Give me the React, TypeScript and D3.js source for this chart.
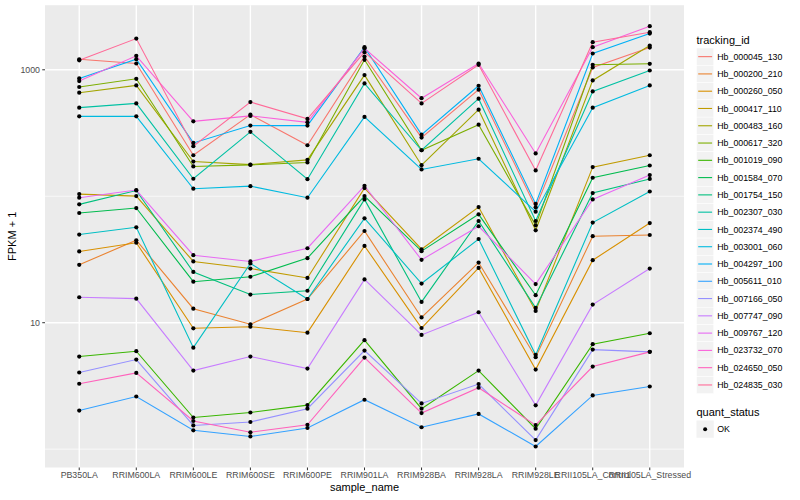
import React, { useRef, useEffect } from "react";
import * as d3 from "d3";

const samples = [
  "PB350LA",
  "RRIM600LA",
  "RRIM600LE",
  "RRIM600SE",
  "RRIM600PE",
  "RRIM901LA",
  "RRIM928BA",
  "RRIM928LA",
  "RRIM928LE",
  "RRII105LA_Control",
  "RRII105LA_Stressed",
];

const trackingIds = [
  "Hb_000045_130",
  "Hb_000200_210",
  "Hb_000260_050",
  "Hb_000417_110",
  "Hb_000483_160",
  "Hb_000617_320",
  "Hb_001019_090",
  "Hb_001584_070",
  "Hb_001754_150",
  "Hb_002307_030",
  "Hb_002374_490",
  "Hb_003001_060",
  "Hb_004297_100",
  "Hb_005611_010",
  "Hb_007166_050",
  "Hb_007747_090",
  "Hb_009767_120",
  "Hb_023732_070",
  "Hb_024650_050",
  "Hb_024835_030",
];

// FPKM + 1, one value per sample (same order as samples)
const hb000045_130 = [1210, 1121, 211, 442, 253, 1273, 291, 696, 81.7, 1043, 1499];
const hb000200_210 = [28.7, 44.9, 12.9, 9.72, 15.4, 53.1, 11.0, 29.9, 5.34, 48.3, 49.4];
const hb000260_050 = [36.6, 42.9, 9.03, 9.3, 8.34, 40.5, 9.08, 27.1, 4.26, 31.2, 61.4];
const hb000417_110 = [104, 100.3, 30.5, 26.8, 22.6, 116, 38.1, 82.1, 12.4, 170, 211];
const hb000483_160 = [659, 752, 188, 178, 194, 908, 176, 484, 53.8, 824, 1555];
const hb000617_320 = [731, 849, 172, 177, 185, 1199, 231, 368, 58.9, 1095, 1115];
const hb001019_090 = [5.4, 5.95, 1.78, 1.95, 2.23, 7.27, 2.09, 4.18, 1.45, 6.76, 8.25];
const hb001584_070 = [73.7, 80.7, 21.1, 23.1, 32.4, 100.3, 36.8, 71.9, 16.5, 140, 175];
const hb001754_150 = [86.3, 111, 25.2, 16.7, 17.9, 94.4, 14.6, 63.7, 13.1, 106, 137];
const hb002307_030 = [502, 542, 137.5, 323, 136.5, 780, 231, 591, 63.7, 674, 987];
const hb002374_490 = [49.8, 56.8, 6.35, 29.4, 15.4, 66.9, 20.4, 45.9, 5.57, 61.9, 109];
const hb003001_060 = [428.5, 428.5, 114.7, 120.2, 97.4, 424, 163, 198, 75.5, 502, 752];
const hb004297_100 = [854, 1214, 264, 362, 362, 1510, 307, 748, 87, 1345, 1933];
const hb005611_010 = [2.02, 2.61, 1.41, 1.26, 1.47, 2.46, 1.49, 1.9, 1.05, 2.66, 3.13];
const hb007166_050 = [4.04, 5.11, 1.54, 1.64, 2.09, 6.02, 2.3, 3.27, 1.18, 6.13, 5.88];
const hb007747_090 = [15.9, 15.5, 4.18, 5.4, 4.34, 22.0, 8.0, 12.1, 2.22, 13.9, 26.8];
const hb009767_120 = [97.4, 112, 34.2, 30.5, 38.8, 121, 31.4, 57.9, 20.2, 94.4, 147];
const hb023732_070 = [814, 1290, 391, 432, 384, 1477, 596, 1121, 218, 1510, 2211];
const hb024650_050 = [3.29, 4.01, 1.67, 1.36, 1.56, 5.3, 1.93, 3.06, 1.55, 4.5, 5.88];
const hb024835_030 = [1188, 1765, 249, 556, 409, 1379, 542, 1095, 160, 1654, 1983];

const seriesValues = [
  hb000045_130, hb000200_210, hb000260_050, hb000417_110, hb000483_160,
  hb000617_320, hb001019_090, hb001584_070, hb001754_150, hb002307_030,
  hb002374_490, hb003001_060, hb004297_100, hb005611_010, hb007166_050,
  hb007747_090, hb009767_120, hb023732_070, hb024650_050, hb024835_030,
];

const yMajor = [10, 1000];
const yMinor = [1, 100, 10000];
const quantStatus = ["OK"];

// R's hcl() (polar Luv) -> hex, same as ggplot's hue palette
function hclR(h: number, c: number, l: number): string {
  const hr = (h * Math.PI) / 180;
  const U = c * Math.cos(hr);
  const V = c * Math.sin(hr);
  const Xn = 95.047, Yn = 100, Zn = 108.883;
  const den = Xn + 15 * Yn + 3 * Zn;
  const un = (4 * Xn) / den;
  const vn = (9 * Yn) / den;
  const Y = Yn * (l > 8 ? Math.pow((l + 16) / 116, 3) : l / 903.3);
  const u = U / (13 * l) + un;
  const v = V / (13 * l) + vn;
  const X = (9 * Y * u) / (4 * v);
  const Z = (Y * (12 - 3 * u - 20 * v)) / (4 * v);
  const x = X / 100, y = Y / 100, z = Z / 100;
  const lin = [
    3.240479 * x - 1.53715 * y - 0.498535 * z,
    -0.969256 * x + 1.875992 * y + 0.041556 * z,
    0.055648 * x - 0.204043 * y + 1.057311 * z,
  ];
  const g = lin.map((t) => {
    const s = t <= 0.0031308 ? 12.92 * t : 1.055 * Math.pow(t, 1 / 2.4) - 0.055;
    return Math.round(Math.max(0, Math.min(1, s)) * 255);
  });
  return d3.rgb(g[0], g[1], g[2]).formatHex();
}

const App: React.FC = () => {
  const chartRef = useRef<SVGSVGElement>(null);

  useEffect(() => {
    if (!chartRef.current) return;
    const svg = d3.select(chartRef.current);
    svg.selectAll("*").remove();

    const font = "'Liberation Sans', Arial, Helvetica, sans-serif";
    const panel = { left: 45, right: 684, top: 5.2, bottom: 467.5 };

    const n = trackingIds.length;
    const colors = trackingIds.map((_, i) => hclR(15 + (360 / n) * i, 100, 65));

    // scales
    const x = d3
      .scalePoint<string>()
      .domain(samples)
      .range([panel.left, panel.right])
      .padding(0.6);

    const logs = seriesValues.flat().map((v) => Math.log10(v));
    const lo = d3.min(logs) || 0;
    const hi = d3.max(logs) || 1;
    const pad = (hi - lo) * 0.05;
    const y = d3
      .scaleLog()
      .domain([Math.pow(10, lo - pad), Math.pow(10, hi + pad)])
      .range([panel.bottom, panel.top]);
    const [dMin, dMax] = y.domain();

    svg.append("rect").attr("width", 800).attr("height", 500).attr("fill", "white");

    // panel background + grid
    svg
      .append("rect")
      .attr("x", panel.left)
      .attr("y", panel.top)
      .attr("width", panel.right - panel.left)
      .attr("height", panel.bottom - panel.top)
      .attr("fill", "#EBEBEB");

    const grid = svg.append("g");
    grid
      .selectAll(".minor")
      .data(yMinor.filter((v) => v >= dMin && v <= dMax))
      .enter()
      .append("line")
      .attr("x1", panel.left)
      .attr("x2", panel.right)
      .attr("y1", (d) => y(d))
      .attr("y2", (d) => y(d))
      .attr("stroke", "white")
      .attr("stroke-width", 0.7);
    grid
      .selectAll(".major")
      .data(yMajor)
      .enter()
      .append("line")
      .attr("x1", panel.left)
      .attr("x2", panel.right)
      .attr("y1", (d) => y(d))
      .attr("y2", (d) => y(d))
      .attr("stroke", "white")
      .attr("stroke-width", 1.4);
    grid
      .selectAll(".vgrid")
      .data(samples)
      .enter()
      .append("line")
      .attr("x1", (d) => x(d) || 0)
      .attr("x2", (d) => x(d) || 0)
      .attr("y1", panel.top)
      .attr("y2", panel.bottom)
      .attr("stroke", "white")
      .attr("stroke-width", 1.4);

    // lines
    const line = d3
      .line<number>()
      .x((_, i) => x(samples[i]) || 0)
      .y((d) => y(d));

    svg
      .append("g")
      .selectAll("path")
      .data(seriesValues)
      .enter()
      .append("path")
      .attr("d", (d) => line(d))
      .attr("fill", "none")
      .attr("stroke", (_, i) => colors[i])
      .attr("stroke-width", 1.1);

    // points
    const pts = seriesValues.flatMap((vals) =>
      vals.map((v, i) => ({ s: samples[i], v }))
    );
    svg
      .append("g")
      .selectAll("circle")
      .data(pts)
      .enter()
      .append("circle")
      .attr("cx", (d) => x(d.s) || 0)
      .attr("cy", (d) => y(d.v))
      .attr("r", 2.1)
      .attr("fill", "black");

    // y axis
    const yAxis = svg.append("g").attr("font-family", font);
    yAxis
      .selectAll("line")
      .data(yMajor)
      .enter()
      .append("line")
      .attr("x1", panel.left - 2.75)
      .attr("x2", panel.left)
      .attr("y1", (d) => y(d))
      .attr("y2", (d) => y(d))
      .attr("stroke", "#333333")
      .attr("stroke-width", 1);
    yAxis
      .selectAll("text")
      .data(yMajor)
      .enter()
      .append("text")
      .attr("x", panel.left - 5)
      .attr("y", (d) => y(d))
      .attr("dy", "0.35em")
      .attr("text-anchor", "end")
      .attr("font-size", 8.8)
      .attr("fill", "#4D4D4D")
      .text((d) => String(d));

    // x axis
    const xAxis = svg.append("g").attr("font-family", font);
    xAxis
      .selectAll("line")
      .data(samples)
      .enter()
      .append("line")
      .attr("x1", (d) => x(d) || 0)
      .attr("x2", (d) => x(d) || 0)
      .attr("y1", panel.bottom)
      .attr("y2", panel.bottom + 2.75)
      .attr("stroke", "#333333")
      .attr("stroke-width", 1);
    xAxis
      .selectAll("text")
      .data(samples)
      .enter()
      .append("text")
      .attr("x", (d) => x(d) || 0)
      .attr("y", panel.bottom + 4)
      .attr("dy", "0.72em")
      .attr("text-anchor", "middle")
      .attr("font-size", 8.8)
      .attr("fill", "#4D4D4D")
      .text((d) => d);

    // axis titles
    svg
      .append("text")
      .attr("x", (panel.left + panel.right) / 2)
      .attr("y", 491)
      .attr("text-anchor", "middle")
      .attr("font-family", font)
      .attr("font-size", 11)
      .text("sample_name");
    svg
      .append("text")
      .attr("transform", `translate(16,${(panel.top + panel.bottom) / 2}) rotate(-90)`)
      .attr("text-anchor", "middle")
      .attr("font-family", font)
      .attr("font-size", 11)
      .text("FPKM + 1");

    // legend: tracking_id
    const keySize = 17.28;
    const legX = 696.5;
    const leg = svg.append("g").attr("font-family", font);
    leg
      .append("text")
      .attr("x", legX)
      .attr("y", 44)
      .attr("font-size", 11)
      .text("tracking_id");
    const items = leg
      .selectAll(".item")
      .data(trackingIds)
      .enter()
      .append("g")
      .attr("transform", (_, i) => `translate(${legX},${48 + i * keySize})`);
    items
      .append("rect")
      .attr("width", keySize)
      .attr("height", keySize)
      .attr("fill", "#F2F2F2")
      .attr("stroke", "white")
      .attr("stroke-width", 0.5);
    items
      .append("line")
      .attr("x1", 1.7)
      .attr("x2", keySize - 1.7)
      .attr("y1", keySize / 2)
      .attr("y2", keySize / 2)
      .attr("stroke", (_, i) => colors[i])
      .attr("stroke-width", 1.1);
    items
      .append("text")
      .attr("x", keySize + 3.5)
      .attr("y", keySize / 2)
      .attr("dy", "0.35em")
      .attr("font-size", 8.8)
      .text((d) => d);

    // legend: quant_status
    leg
      .append("text")
      .attr("x", legX)
      .attr("y", 416)
      .attr("font-size", 11)
      .text("quant_status");
    const qs = leg
      .selectAll(".qs")
      .data(quantStatus)
      .enter()
      .append("g")
      .attr("transform", (_, i) => `translate(${legX},${420.5 + i * keySize})`);
    qs.append("rect")
      .attr("width", keySize)
      .attr("height", keySize)
      .attr("fill", "#F2F2F2");
    qs.append("circle")
      .attr("cx", keySize / 2)
      .attr("cy", keySize / 2)
      .attr("r", 2)
      .attr("fill", "black");
    qs.append("text")
      .attr("x", keySize + 3.5)
      .attr("y", keySize / 2)
      .attr("dy", "0.35em")
      .attr("font-size", 8.8)
      .text((d) => d);
  }, []);

  return (
    <svg
      ref={chartRef}
      width="800"
      height="500"
      style={{ position: "absolute", left: 0, top: 0 }}
    ></svg>
  );
};

export default App;
